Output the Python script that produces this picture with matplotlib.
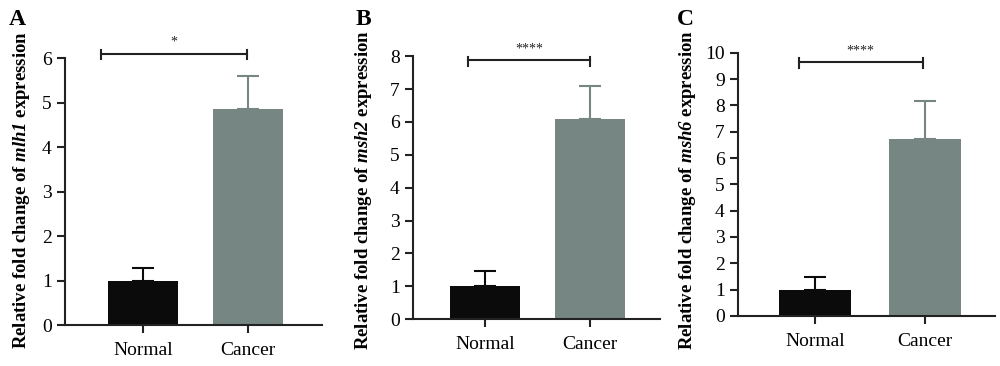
import matplotlib.pyplot as plt
import numpy as np

plt.rcParams['font.family'] = 'Liberation Serif'
plt.rcParams['mathtext.fontset'] = 'custom'
plt.rcParams['mathtext.bfit'] = 'Liberation Serif:bold:italic'
plt.rcParams['mathtext.it'] = 'Liberation Serif:italic'
plt.rcParams['mathtext.rm'] = 'Liberation Serif'
plt.rcParams['mathtext.bf'] = 'Liberation Serif:bold'

groups = ['Normal', 'Cancer']
genes = ['mlh1', 'msh2', 'msh6']
letters = ['A', 'B', 'C']
means = [[1.0, 4.85], [1.0, 6.08], [1.0, 6.72]]
errs = [[0.28, 0.75], [0.45, 1.02], [0.47, 1.46]]
sig = ['*', '****', '****']
sig_y = [6.1, 7.87, 9.66]
sig_x = [[-0.4, 0.99], [-0.16, 1.0], [-0.15, 0.98]]
ymax = [6, 8, 10]

bar_colors = ['#0b0b0b', '#758683']
# axes boxes in figure fraction (left, bottom, width, height)
boxes = [[0.065, 0.112, 0.257, 0.7295],
         [0.413, 0.128, 0.247, 0.7186],
         [0.738, 0.137, 0.257, 0.7186]]
xlims = [(-0.743, 1.705), (-0.686, 1.667), (-0.70, 1.636)]
widths = [0.676, 0.667, 0.655]
label_x = [0.022, 0.363, 0.688]
letter_x = [0.009, 0.356, 0.677]

fig = plt.figure(figsize=(10, 3.66), dpi=100)

for i in range(3):
    ax = fig.add_axes(boxes[i])
    x = np.arange(len(groups))
    for j in range(2):
        ax.bar(x[j], means[i][j], width=widths[i], color=bar_colors[j], zorder=2)
        ax.errorbar(x[j], means[i][j], yerr=[[0], [errs[i][j]]], color=bar_colors[j],
                    capsize=8, elinewidth=1.5, capthick=1.5, zorder=1)
    ax.set_xlim(*xlims[i])
    ax.set_ylim(0, ymax[i])
    ax.set_yticks(np.arange(0, ymax[i] + 1, 1))
    ax.set_xticks(x)
    ax.set_xticklabels(groups)
    ax.tick_params(axis='both', labelsize=14, width=1.5, length=6, color='#222222')
    ax.tick_params(axis='x', pad=6)
    for s in ['top', 'right']:
        ax.spines[s].set_visible(False)
    for s in ['left', 'bottom']:
        ax.spines[s].set_linewidth(1.5)
        ax.spines[s].set_color('#222222')

    # significance bracket
    x0, x1 = sig_x[i]
    yb = sig_y[i]
    dy = ymax[i] * 0.022
    ax.plot([x0, x1], [yb, yb], color='#222222', lw=1.5, clip_on=False)
    ax.plot([x0, x0], [yb - dy, yb + dy * 0.6], color='#222222', lw=1.5, clip_on=False)
    ax.plot([x1, x1], [yb - dy, yb + dy * 0.6], color='#222222', lw=1.5, clip_on=False)
    ax.text((x0 + x1) / 2, yb + dy * 0.8, sig[i], ha='center', va='bottom',
            fontsize=10, color='#222222')

    fig.text(label_x[i], 0.48, 'Relative fold change of $\\mathbfit{%s}$ expression' % genes[i],
             rotation=90, ha='center', va='center', fontsize=13.5, fontweight='bold')
    fig.text(letter_x[i], 0.975, letters[i], ha='left', va='top', fontsize=17,
             fontweight='bold')

fig.savefig('out.png', dpi=100)
